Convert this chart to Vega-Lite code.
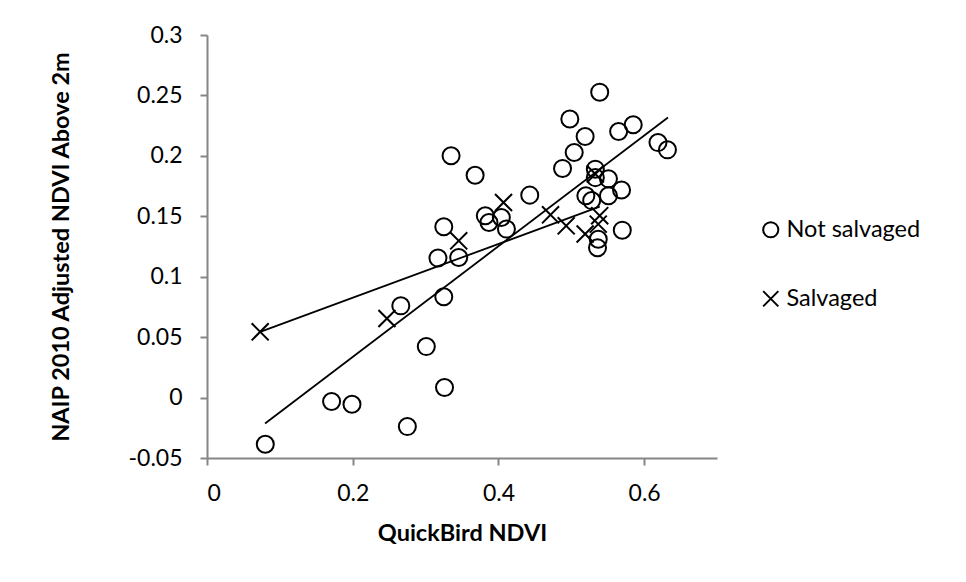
{
  "$schema": "https://vega.github.io/schema/vega-lite/v6.json",
  "width": 510,
  "height": 423,
  "autosize": {"type": "none"},
  "padding": {"left": 207, "top": 35, "right": 249, "bottom": 124},
  "background": "white",
  "config": {
    "font": "Lato",
    "view": {"stroke": null},
    "axis": {
      "grid": false,
      "domainColor": "#868686",
      "domainWidth": 2,
      "tickColor": "#868686",
      "tickWidth": 2,
      "tickSize": 7,
      "labelFont": "Lato",
      "labelFontSize": 23,
      "labelColor": "#000000",
      "titleFont": "Lato",
      "titleFontSize": 23.5,
      "titleFontWeight": "bold",
      "titleColor": "#000000"
    }
  },
  "datasets": {
    "pts": [
      {"x": 0.080, "y": -0.0386, "group": "Not salvaged"},
      {"x": 0.171, "y": -0.0033, "group": "Not salvaged"},
      {"x": 0.199, "y": -0.0055, "group": "Not salvaged"},
      {"x": 0.275, "y": -0.024, "group": "Not salvaged"},
      {"x": 0.301, "y": 0.0422, "group": "Not salvaged"},
      {"x": 0.266, "y": 0.0759, "group": "Not salvaged"},
      {"x": 0.326, "y": 0.0083, "group": "Not salvaged"},
      {"x": 0.325, "y": 0.0834, "group": "Not salvaged"},
      {"x": 0.317, "y": 0.1154, "group": "Not salvaged"},
      {"x": 0.3455, "y": 0.1159, "group": "Not salvaged"},
      {"x": 0.325, "y": 0.1413, "group": "Not salvaged"},
      {"x": 0.335, "y": 0.2001, "group": "Not salvaged"},
      {"x": 0.368, "y": 0.184, "group": "Not salvaged"},
      {"x": 0.382, "y": 0.1504, "group": "Not salvaged"},
      {"x": 0.387, "y": 0.1449, "group": "Not salvaged"},
      {"x": 0.404, "y": 0.149, "group": "Not salvaged"},
      {"x": 0.411, "y": 0.1394, "group": "Not salvaged"},
      {"x": 0.443, "y": 0.1675, "group": "Not salvaged"},
      {"x": 0.488, "y": 0.1896, "group": "Not salvaged"},
      {"x": 0.498, "y": 0.2305, "group": "Not salvaged"},
      {"x": 0.504, "y": 0.2028, "group": "Not salvaged"},
      {"x": 0.519, "y": 0.216, "group": "Not salvaged"},
      {"x": 0.539, "y": 0.2527, "group": "Not salvaged"},
      {"x": 0.565, "y": 0.2202, "group": "Not salvaged"},
      {"x": 0.585, "y": 0.2257, "group": "Not salvaged"},
      {"x": 0.619, "y": 0.211, "group": "Not salvaged"},
      {"x": 0.632, "y": 0.205, "group": "Not salvaged"},
      {"x": 0.533, "y": 0.189, "group": "Not salvaged"},
      {"x": 0.533, "y": 0.182, "group": "Not salvaged"},
      {"x": 0.551, "y": 0.181, "group": "Not salvaged"},
      {"x": 0.569, "y": 0.1717, "group": "Not salvaged"},
      {"x": 0.551, "y": 0.167, "group": "Not salvaged"},
      {"x": 0.520, "y": 0.167, "group": "Not salvaged"},
      {"x": 0.528, "y": 0.163, "group": "Not salvaged"},
      {"x": 0.570, "y": 0.1385, "group": "Not salvaged"},
      {"x": 0.537, "y": 0.131, "group": "Not salvaged"},
      {"x": 0.536, "y": 0.124, "group": "Not salvaged"},
      {"x": 0.073, "y": 0.0544, "group": "Salvaged"},
      {"x": 0.247, "y": 0.0654, "group": "Salvaged"},
      {"x": 0.3455, "y": 0.1297, "group": "Salvaged"},
      {"x": 0.407, "y": 0.1614, "group": "Salvaged"},
      {"x": 0.4715, "y": 0.1512, "group": "Salvaged"},
      {"x": 0.493, "y": 0.1421, "group": "Salvaged"},
      {"x": 0.519, "y": 0.1353, "group": "Salvaged"},
      {"x": 0.539, "y": 0.1505, "group": "Salvaged"},
      {"x": 0.537, "y": 0.1435, "group": "Salvaged"},
      {"x": 0.533, "y": 0.185, "group": "Salvaged"}
    ],
    "fits": [
      {"x": 0.0797, "y": -0.0215, "series": "Not salvaged fit"},
      {"x": 0.6327, "y": 0.2318, "series": "Not salvaged fit"},
      {"x": 0.073, "y": 0.0544, "series": "Salvaged fit"},
      {"x": 0.539, "y": 0.158, "series": "Salvaged fit"}
    ]
  },
  "layer": [
    {
      "data": {"name": "pts"},
      "mark": {"type": "point", "filled": false, "strokeWidth": 2, "size": 290, "color": "#000000", "opacity": 1},
      "encoding": {
        "x": {
          "field": "x", "type": "quantitative",
          "scale": {"domain": [0, 0.7], "nice": false, "zero": false},
          "axis": {
            "title": "QuickBird NDVI",
            "values": [0, 0.2, 0.4, 0.6],
            "labelExpr": "datum.value == 0 ? '0' : toString(round(datum.value*10)/10)",
            "labelPadding": 17,
            "titleX": 255,
            "titleY": 75,
            "titleBaseline": "middle"
          }
        },
        "y": {
          "field": "y", "type": "quantitative",
          "scale": {"domain": [-0.05, 0.3], "nice": false, "zero": false},
          "axis": {
            "title": "NAIP 2010 Adjusted NDVI Above 2m",
            "values": [-0.05, 0, 0.05, 0.1, 0.15, 0.2, 0.25, 0.3],
            "labelExpr": "datum.value == 0 ? '0' : toString(round(datum.value*100)/100)",
            "labelPadding": 18,
            "titleX": -146,
            "titleY": 211.5,
            "titleBaseline": "middle"
          }
        },
        "shape": {
          "field": "group", "type": "nominal",
          "scale": {"domain": ["Not salvaged", "Salvaged"], "range": ["circle", "M-1,-1L1,1M-1,1L1,-1"]},
          "legend": {
            "title": null,
            "orient": "none",
            "legendX": 552,
            "legendY": 183,
            "padding": 0,
            "symbolSize": 230,
            "symbolStrokeWidth": 2,
            "symbolStrokeColor": "#000000",
            "symbolFillColor": "transparent",
            "symbolOpacity": 1,
            "labelFont": "Lato",
            "labelFontSize": 23.5,
            "labelColor": "#000000",
            "labelOffset": 4,
            "rowPadding": 44
          }
        }
      }
    },
    {
      "data": {"name": "fits"},
      "mark": {"type": "line", "color": "#000000", "strokeWidth": 1.8},
      "encoding": {
        "x": {"field": "x", "type": "quantitative"},
        "y": {"field": "y", "type": "quantitative"},
        "detail": {"field": "series", "type": "nominal"}
      }
    }
  ]
}
